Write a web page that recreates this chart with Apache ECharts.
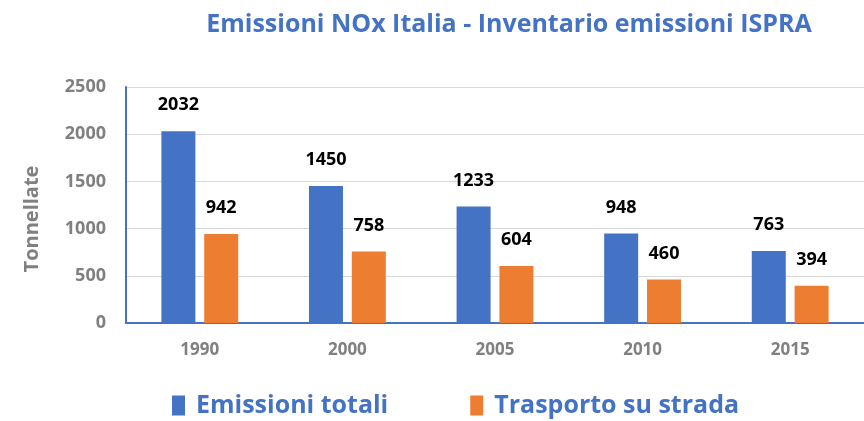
<!DOCTYPE html>
<html>
<head>
<meta charset="utf-8">
<script src="https://cdn.jsdelivr.net/npm/echarts@6/dist/echarts.min.js"></script>
<style>
  html, body { margin: 0; padding: 0; background: #fff; }
  #chart { width: 864px; height: 421px; }
</style>
</head>
<body>
<div id="chart"></div>
<script>
const years = ['1990', '2000', '2005', '2010', '2015']
const emissioniTotali = [2032, 1450, 1233, 948, 763]
const trasportoStrada = [942, 758, 604, 460, 394]

const font = '"Open Sans", "Liberation Sans", sans-serif'

let mychart = echarts.init(document.getElementById('chart'))
mychart.setOption({
  color: ['#4472c4', '#ed7d31'],
  title: {
    text: 'Emissioni NOx Italia - Inventario emissioni ISPRA',
    left: 504,
    textAlign: 'center',
    top: 7,
    textStyle: { color: '#4472c4', fontSize: 25, fontWeight: 'bold', fontFamily: font },
  },
  legend: {
    bottom: -2,
    left: 167,
    itemGap: 82,
    itemWidth: 13,
    itemHeight: 20,
    icon: 'rect',
    textStyle: { color: '#4472c4', fontSize: 25, fontWeight: 'bold', fontFamily: font, padding: [0, 0, 0, 6] },
    data: ['Emissioni totali', 'Trasporto su strada'],
  },
  grid: {
    top: 87,
    left: 126,
    right: 0,
    bottom: 98,
  },
  xAxis: {
    type: 'category',
    data: years,
    axisLine: { lineStyle: { color: '#4472c4', width: 2 } },
    axisTick: { show: false },
    axisLabel: { color: '#808080', fontSize: 17, fontWeight: 'bold', fontFamily: font, margin: 19 },
  },
  yAxis: {
    type: 'value',
    min: 0,
    max: 2500,
    interval: 500,
    name: 'Tonnellate',
    nameLocation: 'middle',
    nameGap: 84,
    nameTextStyle: { color: '#808080', fontSize: 20, fontWeight: 'bold', fontFamily: font, padding: [0, 28, 0, 0] },
    axisLine: { show: true, lineStyle: { color: '#4472c4', width: 2 } },
    axisLabel: {
      color: '#808080', fontSize: 18, fontWeight: 'bold', fontFamily: font, margin: 20,
      formatter: (v) => String(v),
    },
    splitLine: { lineStyle: { color: '#d9d9d9' } },
  },
  series: [
    {
      name: 'Emissioni totali',
      type: 'bar',
      barWidth: 34,
      barGap: '26%',
      data: emissioniTotali,
      label: { show: true, position: 'top', distance: 17, color: '#000', fontSize: 18, fontWeight: 'bold', fontFamily: font },
    },
    {
      name: 'Trasporto su strada',
      type: 'bar',
      barWidth: 34,
      data: trasportoStrada,
      label: { show: true, position: 'top', distance: 17, color: '#000', fontSize: 18, fontWeight: 'bold', fontFamily: font },
    },
  ],
})
</script>
</body>
</html>
